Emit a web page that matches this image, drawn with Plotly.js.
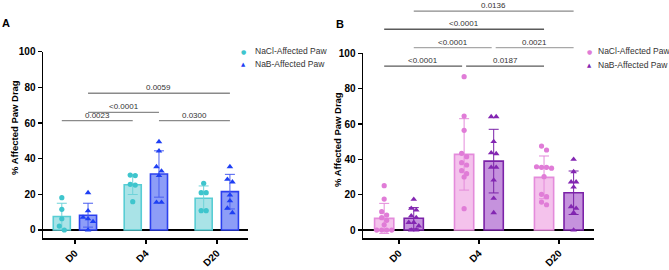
<!DOCTYPE html>
<html><head><meta charset="utf-8">
<script src="https://cdn.plot.ly/plotly-3.0.1.min.js"></script>
<style>html,body{margin:0;padding:0;background:#fff}#chart{width:669px;height:270px}</style>
</head><body><div id="chart"></div>
<script>
// ---------------- data ----------------
const categories = ['D0', 'D4', 'D20'];
const yTicks = [0, 20, 40, 60, 80, 100];
const seriesNames = ['NaCl-Affected Paw', 'NaB-Affected Paw'];

// Panel A – individual animals
const naclA_D0 = [18.1, 11.6, 6.3, 2.2, 0];
const naclA_D4 = [30.8, 30.5, 25.6, 25.2, 15.9];
const naclA_D20 = [26.2, 20.9, 20.9, 10.8, 10.8];
const nabA_D0 = [20.9, 10.7, 7.1, 6.2, 4.7, 0];
const nabA_D4 = [49.5, 44.3, 35.5, 33.0, 30.5, 15.5, 15.5];
const nabA_D20 = [35.5, 28.4, 26.9, 19.6, 16.3, 12.2, 9.7];
// Panel A – mean and SD
const naclA_mean = [7.6, 25.4, 17.8];
const naclA_sd = [7.4, 5.5, 6.9];
const nabA_mean = [8.3, 31.4, 21.5];
const nabA_sd = [6.7, 13.0, 9.7];
const pvalsA = ['0.0023', '<0.0001', '0.0059', '0.0300'];

// Panel B – individual animals
const naclB_D0 = [25.1, 17.5, 10.4, 8.5, 7.0, 5.5, 3.0, 0, 0, 0, 0];
const naclB_D4 = [86.8, 64.5, 56.4, 43.4, 41.5, 38.1, 36.8, 33.6, 31.9, 30.0, 12.1];
const naclB_D20 = [47.5, 45.3, 35.8, 35.5, 35.5, 35.0, 30.2, 20.2, 18.9, 15.8, 14.3];
const nabB_D0 = [17.4, 12.3, 11.3, 8.0, 7.0, 4.3, 4.3, 2.3, 0, 0];
const nabB_D4 = [64.1, 64.1, 50.0, 43.7, 43.2, 35.5, 35.5, 28.3, 17.9, 9.8];
const nabB_D20 = [40.0, 33.0, 27.2, 27.2, 24.3, 13.2, 12.3, 9.8, 0];
// Panel B – mean and SD
const naclB_mean = [6.6, 42.8, 29.8];
const naclB_sd = [8.5, 20.2, 12.1];
const nabB_mean = [6.7, 39.0, 21.1];
const nabB_sd = [6.0, 18.0, 12.3];
const pvalsB = ['<0.0001', '0.0187', '<0.0001', '0.0021', '<0.0001', '0.0136'];

// ---------------- layout geometry / styles ----------------
const W = 669, H = 270;
const FONT = '"Liberation Sans", Arial, Helvetica, sans-serif';
const XR = [-0.45, 2.44];
const YR = [-4.5, 100];
const BARGAP = 0.26, BARGROUPGAP = 0.35;
const OFF = (1 - BARGAP) / 4;

const panels = [
  {
    key: 'A', xa: 'x', ya: 'y',
    xdom: [43 / W, 248 / W], ydom: [32 / H, (H - 51.7) / H],
    nacl: [naclA_D0, naclA_D4, naclA_D20], nab: [nabA_D0, nabA_D4, nabA_D20],
    naclMean: naclA_mean, naclSd: naclA_sd, nabMean: nabA_mean, nabSd: nabA_sd,
    colors: {
      naclFill: '#a9e3e7', naclLine: '#58cdd4', naclPt: '#3ec5cd',
      nabFill: '#8d9df7', nabLine: '#2c40ee', nabPt: '#1e3ff4',
      naclErr: '#6fd3d9', nabErr: '#4a5ef0'
    },
    brackets: [
      {a: [0, 0], b: [0, 1], y: 61.3, color: '#8a8a8a'},
      {a: [1, 0], b: [1, 1], y: 66.0, color: '#8a8a8a'},
      {a: [1, 0], b: [1, 2], y: 76.7, color: '#8a8a8a'},
      {a: [1, 1], b: [1, 2], y: 61.3, color: '#8a8a8a'}
    ],
    pvals: pvalsA,
    letter: {x: 6, y: 23},
    ytitle: {x: 14, y: 128},
    legend: {sym: 243, txt: 253, y1: 51, y2: 64}
  },
  {
    key: 'B', xa: 'x2', ya: 'y2',
    xdom: [363 / W, 594 / W], ydom: [32 / H, (H - 53.3) / H],
    nacl: [naclB_D0, naclB_D4, naclB_D20], nab: [nabB_D0, nabB_D4, nabB_D20],
    naclMean: naclB_mean, naclSd: naclB_sd, nabMean: nabB_mean, nabSd: nabB_sd,
    colors: {
      naclFill: '#f4c2ec', naclLine: '#e48bdb', naclPt: '#e07cd7',
      nabFill: '#c592dd', nabLine: '#7b22a8', nabPt: '#8326b2',
      naclErr: '#e48bdb', nabErr: '#7b22a8'
    },
    brackets: [
      {a: [0, 0], b: [0, 1], y: 92.8, color: '#5a5a5a'},
      {a: [0, 1], b: [0, 2], y: 92.8, color: '#5a5a5a'},
      {a: [1, 0], b: [1, 1], y: 103.2, color: '#a8a8a8'},
      {a: [1, 1], b: [1, 2], y: 103.2, color: '#a8a8a8'},
      {a: [0, 0], b: [0, 2], y: 113.6, color: '#5a5a5a'},
      {a: [1, 0], b: [1, 2], y: 123.9, color: '#8a8a8a'}
    ],
    pvals: pvalsB,
    letter: {x: 340, y: 24},
    ytitle: {x: 337, y: 140},
    legend: {sym: 589, txt: 596, y1: 51, y2: 65}
  }
];

function pxPerX(p) { return (p.xdom[1] - p.xdom[0]) * W / (XR[1] - XR[0]); }
function pxPerY(p) { return (p.ydom[1] - p.ydom[0]) * H / (YR[1] - YR[0]); }
function yPaper(p, v) { return p.ydom[0] + (v - YR[0]) / (YR[1] - YR[0]) * (p.ydom[1] - p.ydom[0]); }

// points with nearly equal values are spread side by side (dot-plot style)
function swarm(vals, p) {
  const thr = 5 / pxPerY(p), step = 5 / pxPerX(p);
  const idx = vals.map((v, i) => i).sort((a, b) => vals[b] - vals[a]);
  const off = new Array(vals.length).fill(0);
  let g = [];
  const flush = () => { g.forEach((id, k) => { off[id] = (k - (g.length - 1) / 2) * step; }); g = []; };
  idx.forEach(id => { if (g.length && vals[g[0]] - vals[id] >= thr) flush(); g.push(id); });
  flush();
  return off;
}

const traces = [], shapes = [], annotations = [];
const layout = {
  width: W, height: H, margin: {l: 0, r: 0, t: 0, b: 0},
  paper_bgcolor: '#fff', plot_bgcolor: 'rgba(0,0,0,0)',
  showlegend: false, barmode: 'group', bargap: BARGAP, bargroupgap: BARGROUPGAP,
  font: {family: FONT, color: '#000'}
};

panels.forEach((p, pi) => {
  const c = p.colors;
  const sfx = pi === 0 ? '' : '2';
  // bars
  [['nacl', p.naclMean, p.naclSd, c.naclFill, c.naclLine, c.naclErr],
   ['nab', p.nabMean, p.nabSd, c.nabFill, c.nabLine, c.nabErr]].forEach(([k, m, sd, fill, line, err], si) => {
    traces.push({
      type: 'bar', name: seriesNames[si], x: [0, 1, 2], y: m, xaxis: p.xa, yaxis: p.ya,
      marker: {color: fill, line: {color: line, width: 1.6}},
      error_y: {type: 'data', array: sd, visible: true, color: err, thickness: 1, width: 5},
      hoverinfo: 'skip'
    });
  });
  // points
  [[p.nacl, -1, c.naclPt, 'circle', 5.2], [p.nab, 1, c.nabPt, 'triangle-up', 5.8]].forEach(([groups, sign, col, sym, sz], si) => {
    const xs = [], ys = [];
    groups.forEach((vals, ci) => {
      const off = swarm(vals, p);
      vals.forEach((v, i) => { xs.push(ci + sign * OFF + off[i]); ys.push(v); });
    });
    traces.push({
      type: 'scatter', mode: 'markers', name: seriesNames[si], x: xs, y: ys,
      xaxis: p.xa, yaxis: p.ya, cliponaxis: false,
      marker: {color: col, symbol: sym, size: sz, line: {width: 0}}, hoverinfo: 'skip'
    });
  });
  // axes
  layout['xaxis' + sfx] = {
    domain: p.xdom, anchor: p.ya, range: XR, tickvals: [0, 1, 2], ticktext: categories,
    tickangle: -45, ticks: 'outside', ticklen: 4, tickwidth: 1.5, tickcolor: '#000',
    showline: true, linecolor: '#000', linewidth: 1.5, showgrid: false, zeroline: false,
    tickfont: {size: 10, color: '#000', family: FONT, weight: 'bold'}, fixedrange: true
  };
  layout['yaxis' + sfx] = {
    domain: p.ydom, anchor: p.xa, range: YR, tickvals: yTicks,
    ticks: 'outside', ticklen: 4, tickwidth: 1.5, tickcolor: '#000',
    showline: true, linecolor: '#000', linewidth: 1.5, showgrid: false,
    zeroline: true, zerolinecolor: '#000', zerolinewidth: 1.5,
    tickfont: {size: 10, color: '#000', family: FONT, weight: 'bold'}, fixedrange: true
  };
  // significance brackets
  const shrink = 2 / pxPerX(p);
  const xOf = e => e[1] + (e[0] === 0 ? -OFF : OFF);
  p.brackets.forEach((b, bi) => {
    let x0 = xOf(b.a), x1 = xOf(b.b);
    const same = p.brackets.filter((o, oi) => oi !== bi && o.y === b.y);
    if (same.some(o => xOf(o.b) === x0)) x0 += shrink;
    if (same.some(o => xOf(o.a) === x1)) x1 -= shrink;
    const yp = yPaper(p, b.y);
    shapes.push({type: 'line', xref: p.xa, yref: 'paper', x0, x1, y0: yp, y1: yp,
      line: {color: b.color, width: 1.3}});
    annotations.push({xref: p.xa, yref: 'paper', x: (x0 + x1) / 2, y: yp, yshift: 5.5,
      xanchor: 'center', yanchor: 'middle', showarrow: false, text: p.pvals[bi],
      font: {size: 8, color: '#333', family: FONT}});
  });
  // panel letter
  annotations.push({xref: 'paper', yref: 'paper', x: p.letter.x / W, y: (H - p.letter.y) / H,
    xanchor: 'center', yanchor: 'middle', showarrow: false, text: p.key,
    font: {size: 11, color: '#000', family: FONT, weight: 'bold'}});
  // y-axis title
  annotations.push({xref: 'paper', yref: 'paper', x: p.ytitle.x / W, y: (H - p.ytitle.y) / H,
    xanchor: 'center', yanchor: 'middle', showarrow: false, textangle: -90,
    text: '% Affected Paw Drag', font: {size: 9.5, color: '#000', family: FONT, weight: 'bold'}});
  // legend
  [[p.legend.y1, '\u25CF', c.naclPt, 6], [p.legend.y2, '\u25B2', c.nabPt, 5.5]].forEach(([yy, s, col, fs], si) => {
    annotations.push({xref: 'paper', yref: 'paper', x: p.legend.sym / W, y: (H - yy) / H,
      xanchor: 'center', yanchor: 'middle', showarrow: false, text: s,
      font: {size: fs, color: col, family: '"DejaVu Sans", sans-serif'}});
    annotations.push({xref: 'paper', yref: 'paper', x: p.legend.txt / W, y: (H - yy) / H,
      xanchor: 'left', yanchor: 'middle', showarrow: false, text: seriesNames[si],
      font: {size: 8.5, color: '#333', family: FONT}});
  });
});
layout.shapes = shapes;
layout.annotations = annotations;

Plotly.newPlot('chart', traces, layout, {displayModeBar: false, staticPlot: true});
</script></body></html>
